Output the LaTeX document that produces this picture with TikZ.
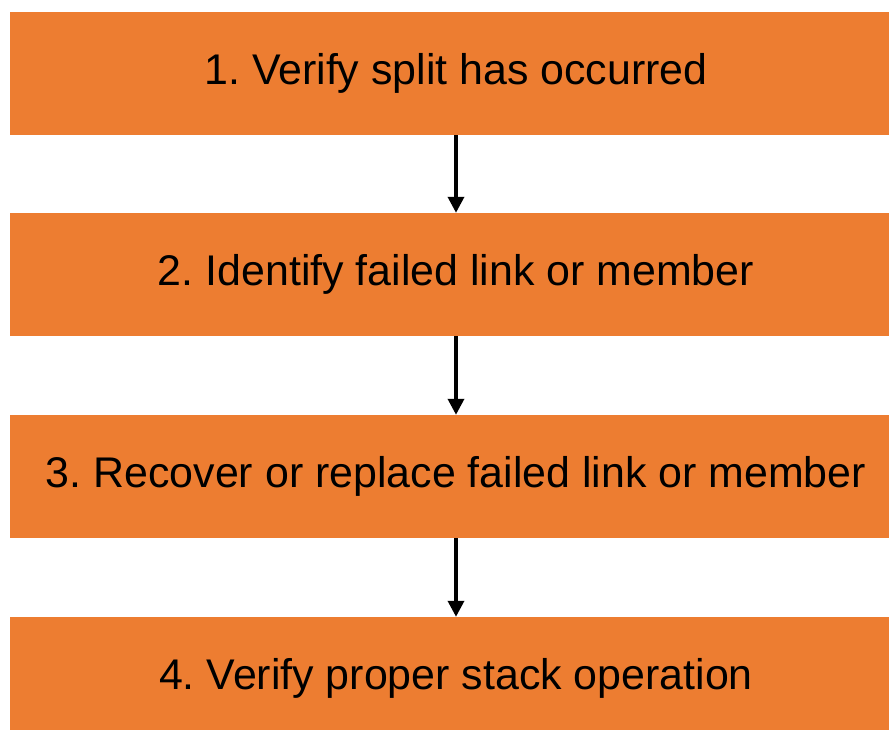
\documentclass[tikz,border=0pt]{standalone}
\usepackage{fontspec}
\setmainfont{Liberation Sans}
\usetikzlibrary{arrows.meta}
\definecolor{stepfill}{HTML}{ED7D31}
\frenchspacing
\begin{document}
\begin{tikzpicture}[x=1pt,y=1pt,
  stepbox/.style={fill=stepfill, draw=none, minimum width=892pt, minimum height=123pt,
    inner sep=0pt, font=\fontsize{42.9}{46}\selectfont, anchor=center},
  flow/.style={line width=3.5pt, -{Triangle[width=16pt,length=16pt]}}]
\clip (0,0) rectangle (889,730);
\node[stepbox] (s1) at (456,656.5) {1. Verify split has occurred};
\node[stepbox] (s2) at (456,455.5) {2. Identify failed link or member};
\node[stepbox] (s3) at (456,253.5) {3. Recover or replace failed link or member};
\node[stepbox] (s4) at (456,51.5) {4. Verify proper stack operation};
\draw[flow] (s1) -- (s2);
\draw[flow] (s2) -- (s3);
\draw[flow] (s3) -- (s4);
\end{tikzpicture}
\end{document}
